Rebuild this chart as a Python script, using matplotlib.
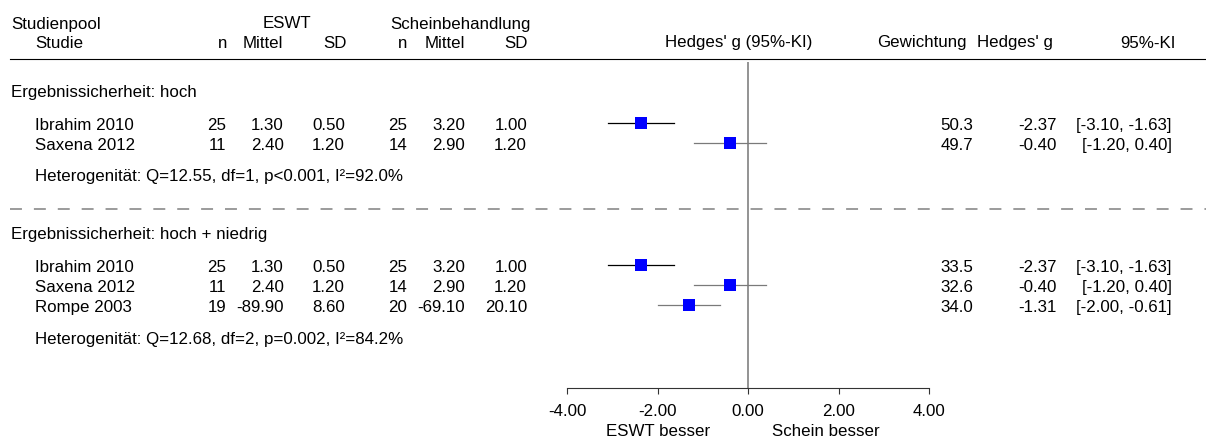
import matplotlib.pyplot as plt

plt.rcParams['font.family'] = ['Liberation Sans', 'DejaVu Sans']
plt.rcParams['font.size'] = 12.2
plt.rcParams['lines.scale_dashes'] = False

# Studiendaten
studien = ['Ibrahim 2010', 'Saxena 2012', 'Rompe 2003']
eswt_n = [25, 11, 19]
eswt_mittel = [1.30, 2.40, -89.90]
eswt_sd = [0.50, 1.20, 8.60]
schein_n = [25, 14, 20]
schein_mittel = [3.20, 2.90, -69.10]
schein_sd = [1.00, 1.20, 20.10]
hedges_g = [-2.37, -0.40, -1.31]
ki_unten = [-3.10, -1.20, -2.00]
ki_oben = [-1.63, 0.40, -0.61]

# Studienpools
gruppen = ['Ergebnissicherheit: hoch', 'Ergebnissicherheit: hoch + niedrig']
gruppen_studien = [[0, 1], [0, 1, 2]]
gewichtung = [[50.3, 49.7], [33.5, 32.6, 34.0]]
heterogenitaet = ['Heterogenität: Q=12.55, df=1, p<0.001, I²=92.0%',
                  'Heterogenität: Q=12.68, df=2, p=0.002, I²=84.2%']
achse_ticks = [-4, -2, 0, 2, 4]

# Layout (Pixelzeilen von oben)
gruppe_y = [92, 235]
zeile_y = [[126, 146], [268, 288, 308]]
het_y = [177, 340]
linien_farbe = ['black', '#7a7a7a', '#7a7a7a']

fig = plt.figure(figsize=(12.06, 4.39), dpi=100)
tab = fig.add_axes([0, 0, 1, 1])
tab.set_xlim(0, 1206)
tab.set_ylim(439, 0)
tab.axis('off')

# Kopfzeilen
tab.text(11, 24, 'Studienpool', va='center')
tab.text(287, 24, 'ESWT', ha='center', va='center')
tab.text(460, 24, 'Scheinbehandlung', ha='center', va='center')
tab.text(35, 43, 'Studie', va='center')
for x, s in [(227, 'n'), (283, 'Mittel'), (347, 'SD'), (407, 'n'), (465, 'Mittel'),
             (528, 'SD'), (967, 'Gewichtung'), (1053, "Hedges' g"), (1176, '95%-KI')]:
    tab.text(x, 43, s, ha='right', va='center')
tab.text(739, 43, "Hedges' g (95%-KI)", ha='center', va='center')
tab.plot([10, 1206], [60, 60], color='black', lw=0.8)
tab.plot([10, 1206], [210, 210], color='#808080', lw=1.1, dashes=(8.6, 8.6))

# Forest-Plot-Bereich
ax = fig.add_axes([567 / 1206, 50 / 439, 362 / 1206, 326 / 439])
ax.set_xlim(-4, 4)
ax.set_ylim(389, 63)
ax.patch.set_visible(False)
for sp in ['top', 'left', 'right']:
    ax.spines[sp].set_visible(False)
ax.spines['bottom'].set_color('#333333')
ax.spines['bottom'].set_linewidth(0.8)
ax.set_yticks([])
ax.set_xticks(achse_ticks)
ax.set_xticklabels([f'{t:.2f}' for t in achse_ticks])
ax.tick_params(axis='x', direction='out', length=4.5, width=0.8, color='#333333', pad=6.5)
ax.axvline(0, color='#808080', lw=1.2)

for g, name in enumerate(gruppen):
    tab.text(11, gruppe_y[g], name, va='center')
    for k, i in enumerate(gruppen_studien[g]):
        y = zeile_y[g][k]
        tab.text(35, y, studien[i], va='center')
        tab.text(226, y, f'{eswt_n[i]}', ha='right', va='center')
        tab.text(284, y, f'{eswt_mittel[i]:.2f}', ha='right', va='center')
        tab.text(345, y, f'{eswt_sd[i]:.2f}', ha='right', va='center')
        tab.text(407, y, f'{schein_n[i]}', ha='right', va='center')
        tab.text(465, y, f'{schein_mittel[i]:.2f}', ha='right', va='center')
        tab.text(527, y, f'{schein_sd[i]:.2f}', ha='right', va='center')
        tab.text(973, y, f'{gewichtung[g][k]:.1f}', ha='right', va='center')
        tab.text(1057, y, f'{hedges_g[i]:.2f}', ha='right', va='center')
        tab.text(1172, y, f'[{ki_unten[i]:.2f}, {ki_oben[i]:.2f}]', ha='right', va='center')
        ax.plot([ki_unten[i], ki_oben[i]], [y - 2, y - 2], color=linien_farbe[i], lw=0.9)
        ax.plot(hedges_g[i], y - 2, 's', color='#0000ff', markersize=8.6, markeredgewidth=0)
    tab.text(35, het_y[g], heterogenitaet[g], va='center')

tab.text(658, 432, 'ESWT besser', ha='center', va='center')
tab.text(826, 432, 'Schein besser', ha='center', va='center')

fig.savefig('out.png', dpi=100)
